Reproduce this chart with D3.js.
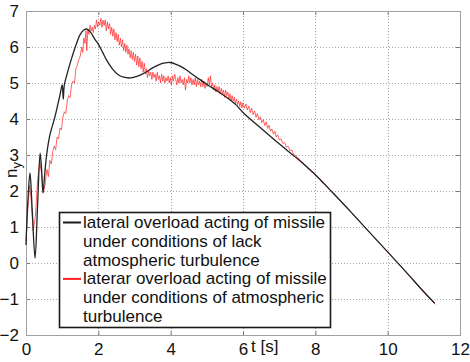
<!DOCTYPE html>
<html>
<head>
<meta charset="utf-8">
<script src="https://cdn.jsdelivr.net/npm/d3@7"></script>
<style>
  html, body { margin: 0; padding: 0; background: #fff; }
  svg { display: block; font-family: "Liberation Sans", Arial, sans-serif; }
</style>
</head>
<body>
<svg id="chart" width="470" height="362"></svg>
<script>
// Axis ticks
const xTicks = [0, 2, 4, 6, 8, 10, 12];
const yTicks = [-2, -1, 0, 1, 2, 3, 4, 5, 6, 7];

// Lateral overload without atmospheric turbulence: [t (s), n_y]
const calmSeries = [
  [0.00, 0.50], [0.05, 1.70], [0.11, 2.50], [0.17, 1.50], [0.25, 0.13],
  [0.32, 1.60], [0.39, 3.05], [0.43, 2.60], [0.47, 1.95], [0.52, 2.50],
  [0.57, 3.00], [0.66, 3.55], [0.80, 4.06], [0.94, 4.67], [1.00, 4.95],
  [1.03, 4.55], [1.06, 4.95], [1.15, 5.30], [1.25, 5.65], [1.38, 6.05],
  [1.50, 6.35], [1.60, 6.47], [1.68, 6.50], [1.78, 6.42], [1.90, 6.22],
  [2.00, 6.08], [2.12, 5.85], [2.25, 5.60], [2.40, 5.38], [2.55, 5.23],
  [2.70, 5.16], [2.88, 5.14], [3.05, 5.18], [3.20, 5.24], [3.35, 5.32],
  [3.50, 5.42], [3.70, 5.52], [3.85, 5.56], [3.98, 5.57], [4.15, 5.52],
  [4.35, 5.42], [4.55, 5.28], [4.80, 5.10], [5.05, 4.93], [5.30, 4.77],
  [5.55, 4.60], [5.80, 4.40], [6.00, 4.18], [6.50, 3.74], [7.00, 3.31],
  [7.50, 2.90], [8.00, 2.45], [8.50, 1.93], [9.00, 1.40], [9.50, 0.85],
  [10.00, 0.31], [10.50, -0.24], [11.00, -0.80], [11.30, -1.12]
];

// Lateral overload under atmospheric turbulence: [t (s), n_y]
const turbSeries = [
  [0.00, 0.60], [0.05, 1.50], [0.10, 2.15], [0.14, 1.80], [0.20, 0.90],
  [0.26, 1.30], [0.32, 2.30], [0.38, 2.80], [0.43, 2.50], [0.48, 1.95],
  [0.53, 2.20], [0.58, 2.60], [0.62, 2.40], [0.66, 2.85], [0.70, 2.75],
  [0.74, 3.10], [0.78, 3.25], [0.82, 3.15], [0.86, 3.50], [0.90, 3.45],
  [0.94, 3.75], [0.98, 3.70], [1.02, 4.05], [1.06, 4.20], [1.10, 4.15],
  [1.14, 4.50], [1.18, 4.65], [1.22, 4.60], [1.26, 4.95], [1.30, 5.05],
  [1.34, 5.00], [1.38, 5.40], [1.42, 5.50], [1.46, 5.65], [1.50, 5.75],
  [1.54, 6.00], [1.57, 5.85], [1.60, 6.25], [1.63, 6.10], [1.66, 6.45],
  [1.68, 5.90], [1.71, 6.50], [1.74, 6.35], [1.77, 6.60], [1.80, 6.45],
  [1.83, 6.55], [1.86, 6.40], [1.89, 6.60], [1.92, 6.50], [1.95, 6.75],
  [1.98, 6.55], [2.01, 6.70], [2.04, 6.60], [2.07, 6.80], [2.10, 6.55],
  [2.13, 6.75], [2.16, 6.60], [2.19, 6.75], [2.22, 6.45], [2.25, 6.70],
  [2.28, 6.50], [2.31, 6.65], [2.34, 6.35], [2.37, 6.55], [2.40, 6.30],
  [2.43, 6.50], [2.46, 6.20], [2.49, 6.40], [2.52, 6.15], [2.55, 6.35],
  [2.58, 6.05], [2.61, 6.25], [2.64, 6.00], [2.67, 6.20], [2.70, 5.90],
  [2.73, 6.10], [2.76, 5.85], [2.79, 6.05], [2.82, 5.80], [2.85, 5.95],
  [2.88, 5.70], [2.91, 5.90], [2.94, 5.65], [2.97, 5.85], [3.00, 5.60],
  [3.03, 5.80], [3.06, 5.50], [3.09, 5.75], [3.12, 5.45], [3.15, 5.70],
  [3.18, 5.40], [3.21, 5.60], [3.24, 5.30], [3.27, 5.55], [3.30, 5.25],
  [3.33, 5.40], [3.36, 5.15], [3.39, 5.35], [3.42, 5.20], [3.45, 5.30],
  [3.48, 5.10], [3.51, 5.30], [3.54, 5.15], [3.57, 5.25], [3.60, 5.05],
  [3.63, 5.30], [3.66, 5.10], [3.69, 5.20], [3.72, 5.00], [3.75, 5.25],
  [3.78, 5.05], [3.81, 5.20], [3.84, 5.00], [3.87, 5.15], [3.90, 5.05],
  [3.93, 5.20], [3.96, 5.00], [3.99, 5.15], [4.02, 4.95], [4.05, 5.20],
  [4.08, 5.05], [4.11, 5.25], [4.14, 5.10], [4.17, 4.95], [4.20, 5.15],
  [4.23, 5.00], [4.26, 5.20], [4.29, 5.00], [4.32, 5.10], [4.35, 4.95],
  [4.38, 5.15], [4.41, 4.80], [4.44, 5.10], [4.47, 5.00], [4.50, 5.20],
  [4.53, 5.00], [4.56, 5.15], [4.59, 4.95], [4.62, 5.10], [4.65, 4.95],
  [4.68, 5.15], [4.71, 4.90], [4.74, 5.10], [4.77, 4.95], [4.80, 5.05],
  [4.83, 4.90], [4.86, 5.10], [4.89, 4.90], [4.92, 5.05], [4.95, 4.85],
  [4.98, 5.00], [5.01, 4.90], [5.04, 5.15], [5.07, 4.95], [5.10, 5.20],
  [5.13, 4.90], [5.16, 5.00], [5.19, 4.80], [5.22, 4.95], [5.25, 4.75],
  [5.28, 4.90], [5.31, 4.75], [5.34, 4.90], [5.37, 4.70], [5.40, 4.85],
  [5.43, 4.70], [5.46, 4.80], [5.49, 4.60], [5.52, 4.80], [5.55, 4.65],
  [5.58, 4.75], [5.61, 4.55], [5.64, 4.70], [5.67, 4.50], [5.70, 4.65],
  [5.73, 4.50], [5.76, 4.60], [5.79, 4.42], [5.82, 4.55], [5.85, 4.40],
  [5.88, 4.50], [5.91, 4.35], [5.94, 4.48], [5.97, 4.30], [6.00, 4.45],
  [6.04, 4.30], [6.08, 4.42], [6.12, 4.25], [6.16, 4.36], [6.20, 4.18],
  [6.24, 4.30], [6.28, 4.12], [6.32, 4.22], [6.36, 4.05], [6.40, 4.15],
  [6.44, 3.98], [6.48, 4.06], [6.52, 3.90], [6.56, 3.98], [6.60, 3.82],
  [6.64, 3.92], [6.68, 3.74], [6.72, 3.83], [6.76, 3.66], [6.80, 3.72],
  [6.84, 3.58], [6.88, 3.66], [6.92, 3.50], [6.96, 3.56], [7.00, 3.42],
  [7.05, 3.45], [7.10, 3.32], [7.15, 3.35], [7.20, 3.22], [7.25, 3.24],
  [7.30, 3.12], [7.35, 3.14], [7.40, 3.01], [7.45, 3.00], [7.50, 2.92],
  [7.55, 2.90], [7.60, 2.82], [7.65, 2.80], [7.70, 2.72], [7.75, 2.70],
  [7.80, 2.61], [7.85, 2.60], [7.90, 2.52], [7.95, 2.52], [8.00, 2.43],
  [8.10, 2.35], [8.20, 2.22], [8.30, 2.16], [8.40, 2.02], [8.50, 1.95],
  [8.70, 1.72], [9.00, 1.40], [9.50, 0.85], [10.00, 0.30], [10.50, -0.25],
  [11.00, -0.82], [11.32, -1.15]
];

// Legend entries
const legendLabels = [
  ["lateral overload acting of missile", "under conditions of lack", "atmospheric turbulence"],
  ["laterar overload acting of missile", "under conditions of atmospheric", "turbulence"]
];
const legendColors = ["#1a1a1a", "#ff2020"];

const svg = d3.select("#chart");
const x = d3.scaleLinear().domain([0, 12]).range([26, 460]);
const y = d3.scaleLinear().domain([-2, 7]).range([335, 11]);

// Dotted grid
const grid = svg.append("g").attr("stroke", "#a8a8a8").attr("stroke-width", 1)
  .attr("stroke-dasharray", "1,2");
grid.selectAll(".gx").data(xTicks.slice(1, -1)).join("line")
  .attr("x1", d => Math.round(x(d)) + 0.5).attr("x2", d => Math.round(x(d)) + 0.5)
  .attr("y1", y(-2)).attr("y2", y(7));
grid.selectAll(".gy").data(yTicks.slice(1, -1)).join("line")
  .attr("y1", d => Math.round(y(d)) + 0.5).attr("y2", d => Math.round(y(d)) + 0.5)
  .attr("x1", x(0)).attr("x2", x(12));

// Axes with inward ticks
function styleAxis(g) {
  g.select(".domain").remove();
  g.selectAll(".tick line").attr("stroke", "#777");
  g.selectAll("text").attr("fill", "#111").style("font-size", "17px")
    .style("font-family", "Liberation Sans, Arial, sans-serif");
}
svg.append("g").attr("transform", `translate(0,${y(-2)})`)
  .call(d3.axisBottom(x).tickValues(xTicks).tickSizeInner(-4).tickSizeOuter(0).tickPadding(8))
  .call(styleAxis);
svg.append("g").attr("transform", `translate(0,${y(7)})`)
  .call(d3.axisTop(x).tickValues(xTicks).tickSizeInner(-4).tickSizeOuter(0).tickFormat(""))
  .call(styleAxis);
svg.append("g").attr("transform", `translate(${x(0)},0)`)
  .call(d3.axisLeft(y).tickValues(yTicks).tickSizeInner(-4).tickSizeOuter(0).tickPadding(7))
  .call(styleAxis);
svg.append("g").attr("transform", `translate(${x(12)},0)`)
  .call(d3.axisRight(y).tickValues(yTicks).tickSizeInner(-4).tickSizeOuter(0).tickFormat(""))
  .call(styleAxis);

// Plot frame
svg.append("rect")
  .attr("x", x(0) + 0.5).attr("y", y(7) + 0.5)
  .attr("width", x(12) - x(0)).attr("height", y(-2) - y(7))
  .attr("fill", "none").attr("stroke", "#a0a0a0").attr("stroke-width", 1);

// x-axis title next to the 6 s tick
svg.append("text").attr("x", x(6) + 8).attr("y", 352)
  .attr("fill", "#111").style("font-size", "17px").text("t [s]");

// y-axis title n_y
const yt = svg.append("text")
  .attr("transform", "translate(17,178) rotate(-90)")
  .attr("fill", "#111").style("font-size", "17px");
yt.append("tspan").text("n");
yt.append("tspan").attr("dy", 4).style("font-size", "13px").text("y");

// Series
const line = d3.line().x(d => x(d[0])).y(d => y(d[1]));
svg.append("path").datum(turbSeries)
  .attr("d", line.curve(d3.curveLinear))
  .attr("fill", "none").attr("stroke", "#ff2a2a").attr("stroke-opacity", 0.72)
  .attr("stroke-width", 1).attr("stroke-linejoin", "round");
svg.append("path").datum(calmSeries)
  .attr("d", d3.line().x(d => x(d[0])).y(d => y(d[1])).curve(d3.curveCatmullRom.alpha(0.5)))
  .attr("fill", "none").attr("stroke", "#222").attr("stroke-width", 1.3);

// Legend
const lg = svg.append("g");
lg.append("rect").attr("x", 59.5).attr("y", 212.5).attr("width", 271).attr("height", 115)
  .attr("fill", "#fff").attr("stroke", "#1a1a1a").attr("stroke-width", 1.6);
let row = 0;
legendLabels.forEach((lines, i) => {
  const by = 228 + row * 18.8;
  lg.append("line").attr("x1", 63).attr("x2", 81)
    .attr("y1", by - 5.5).attr("y2", by - 5.5)
    .attr("stroke", legendColors[i]).attr("stroke-width", 2);
  lines.forEach((t, j) => {
    lg.append("text").attr("x", 83).attr("y", 228 + (row + j) * 18.8)
      .attr("fill", "#111").style("font-size", "17px").text(t);
  });
  row += lines.length;
});
</script>
</body>
</html>
